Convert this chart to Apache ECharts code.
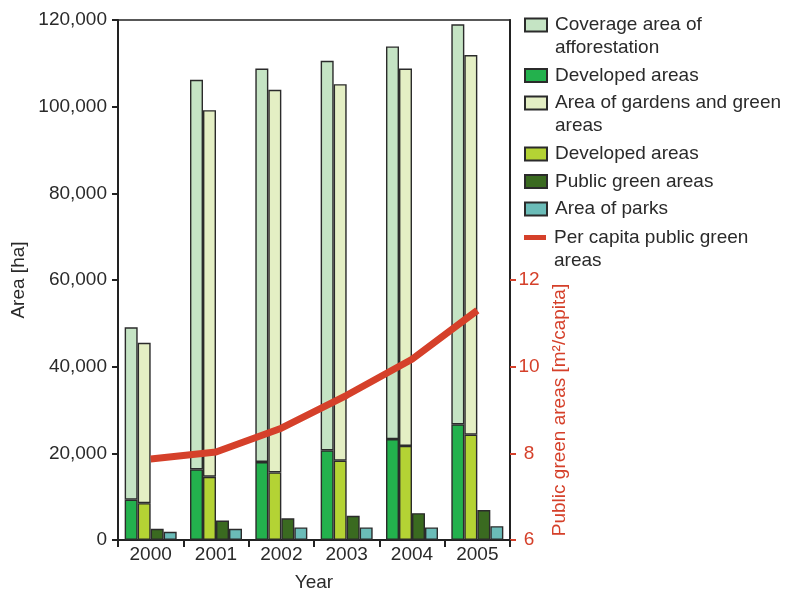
<!DOCTYPE html>
<html>
<head>
<meta charset="utf-8">
<script src="https://cdn.jsdelivr.net/npm/echarts@6/dist/echarts.min.js"></script>
<style>html,body{margin:0;padding:0;background:#fff}#c{width:800px;height:591px}</style>
</head>
<body>
<div id="c"></div>
<script>
const years = ['2000', '2001', '2002', '2003', '2004', '2005'];
// Coverage area of afforestation (total bar height, ha)
const afforestationTotal = [49100, 106200, 108800, 110600, 113900, 119000];
// Developed part of afforestation (ha)
const afforestationDeveloped = [9300, 16300, 18000, 20700, 23300, 26700];
// Area of gardens and green areas (total bar height, ha)
const gardensTotal = [45500, 99200, 103900, 105200, 108800, 111900];
// Developed part of gardens (ha)
const gardensDeveloped = [8500, 14600, 15600, 18300, 21700, 24300];
// Public green areas (ha)
const publicGreen = [2600, 4500, 5000, 5600, 6200, 6900];
// Area of parks (ha)
const parks = [1900, 2600, 2900, 2900, 2900, 3200];
// Per capita public green areas (m2/capita)
const perCapita = [7.87, 8.03, 8.58, 9.34, 10.17, 11.3];
const leftTicks = [0, 20000, 40000, 60000, 80000, 100000, 120000];
const rightTicks = [6, 8, 10, 12];

const FONT = 'Liberation Sans, Arial, Helvetica, sans-serif';
const FS = 19;
const TXT = '#2a2a2a';
const RED = '#d5402a';
const BORDER = '#2b2b2b';

const upperAff = afforestationTotal.map((t, i) => t - afforestationDeveloped[i]);
const upperGar = gardensTotal.map((t, i) => t - gardensDeveloped[i]);

const labels = {
  aff: ['Coverage area of', 'afforestation'],
  dev1: ['Developed areas'],
  gar: ['Area of gardens and green', 'areas'],
  dev2: ['Developed areas'],
  pub: ['Public green areas'],
  park: ['Area of parks'],
  line: ['Per capita public green', 'areas']
};
const legendOrder = [
  ['aff', 25], ['dev1', 75.5], ['gar', 103], ['dev2', 154],
  ['pub', 181.5], ['park', 209], ['line', 237.5]
];
const LH = 23;
const legends = legendOrder.map(([key, cy]) => {
  const lines = labels[key].length;
  return {
    data: [key === 'line'
      ? {name: key, icon: 'path://M0,0 M22,13 M0,4 L22,4 L22,9 L0,9 Z'}
      : {name: key, icon: 'rect'}],
    left: 524,
    top: lines === 1 ? cy - LH / 2 : cy - LH * 1.5,
    padding: 0,
    orient: 'vertical',
    itemWidth: 22,
    itemHeight: 13,
    selectedMode: false,
    formatter: n => (labels[n].length > 1 ? ' \n' : '') + labels[n].join('\n'),
    textStyle: {fontFamily: FONT, fontSize: FS, color: TXT, lineHeight: LH, padding: [0, 0, 0, 3]}
  };
});

function barStyle(color) {
  return {color: color, borderColor: BORDER, borderWidth: 1.4};
}

const option = {
  animation: false,
  backgroundColor: '#fff',
  textStyle: {fontFamily: FONT},
  legend: legends,
  grid: {left: 118, right: 290, top: 20, bottom: 51, outerBoundsMode: 'none', containLabel: false,
    show: true, borderColor: '#222', borderWidth: 1.5, backgroundColor: 'transparent'},
  xAxis: {
    type: 'category',
    data: years,
    name: 'Year',
    nameLocation: 'middle',
    nameGap: 33,
    nameTextStyle: {fontFamily: FONT, fontSize: FS, color: TXT},
    axisLine: {lineStyle: {color: '#222', width: 2}},
    axisTick: {show: true, length: 7, lineStyle: {color: '#222', width: 2}},
    axisLabel: {fontFamily: FONT, fontSize: FS, color: TXT, margin: 5}
  },
  yAxis: [{
    type: 'value',
    min: 0, max: 120000, interval: 20000,
    name: 'Area [ha]',
    nameLocation: 'middle',
    nameGap: 90,
    nameTextStyle: {fontFamily: FONT, fontSize: FS, color: TXT},
    axisLine: {show: true, lineStyle: {color: '#222', width: 2}},
    axisTick: {show: true, length: 6, lineStyle: {color: '#222', width: 2}, customValues: leftTicks},
    axisLabel: {fontFamily: FONT, fontSize: FS, color: TXT, margin: 11, customValues: leftTicks,
      formatter: v => v.toLocaleString('en-US')},
    splitLine: {show: false}
  }, {
    type: 'value',
    position: 'right',
    min: 6, max: 18, interval: 2,
    axisLine: {show: true, lineStyle: {color: '#222', width: 2}},
    axisTick: {show: true, length: 6, lineStyle: {color: RED, width: 2}, customValues: rightTicks},
    axisLabel: {fontFamily: FONT, fontSize: FS, color: RED, margin: 19, align: 'center', customValues: rightTicks},
    splitLine: {show: false}
  }],
  graphic: [{
    type: 'text',
    x: 560, y: 410,
    rotation: Math.PI / 2,
    style: {text: 'Public green areas [m²/capita]', fontFamily: FONT, fontSize: FS, fill: RED, align: 'center', verticalAlign: 'middle'}
  }],
  series: [
    {name: 'dev1', type: 'bar', stack: 'A', data: afforestationDeveloped, barWidth: 13, barGap: '0%', itemStyle: barStyle('#23b14d')},
    {name: 'aff', type: 'bar', stack: 'A', data: upperAff, barWidth: 13, barGap: '0%', itemStyle: barStyle('#c5e4c4')},
    {name: 'dev2', type: 'bar', stack: 'B', data: gardensDeveloped, barWidth: 13, barGap: '0%', itemStyle: barStyle('#b4d334')},
    {name: 'gar', type: 'bar', stack: 'B', data: upperGar, barWidth: 13, barGap: '0%', itemStyle: barStyle('#e4efc4')},
    {name: 'pub', type: 'bar', data: publicGreen, barWidth: 13, barGap: '0%', itemStyle: barStyle('#3a6a20')},
    {name: 'park', type: 'bar', data: parks, barWidth: 13, barGap: '0%', itemStyle: barStyle('#6bbcb8')},
    {name: 'line', type: 'line', yAxisIndex: 1, data: perCapita, symbol: 'none', showSymbol: false,
      lineStyle: {color: RED, width: 7}, itemStyle: {color: RED, borderWidth: 0}, z: 5}
  ]
};
const chart = echarts.init(document.getElementById('c'), null, {renderer: 'canvas'});
chart.setOption(option);
</script>
</body>
</html>
